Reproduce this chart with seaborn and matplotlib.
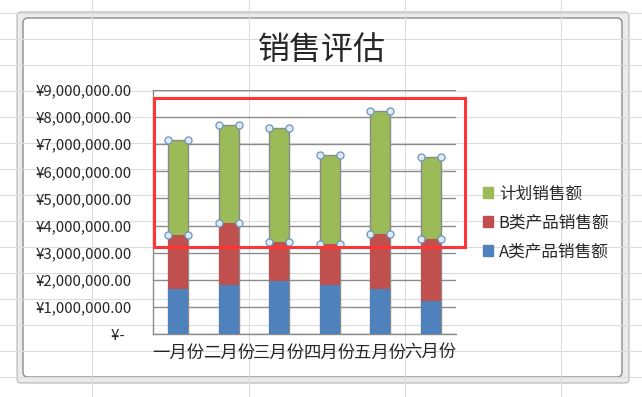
import numpy as np
import pandas as pd
import matplotlib
matplotlib.use("Agg")
import matplotlib.pyplot as plt
from matplotlib.patches import Rectangle, FancyBboxPatch, Patch
import seaborn as sns

# 数据
months = ["一月份", "二月份", "三月份", "四月份", "五月份", "六月份"]
sales_a = [1660000, 1790000, 1970000, 1790000, 1670000, 1200000]
sales_b = [1990000, 2310000, 1410000, 1530000, 2030000, 2310000]
sales_plan = [3510000, 3610000, 4230000, 3300000, 4510000, 3010000]
y_ticks = [0, 1000000, 2000000, 3000000, 4000000, 5000000, 6000000, 7000000, 8000000, 9000000]

col_a = "#4f81bd"
col_b = "#c0504d"
col_plan = "#9bbb59"

sns.set_style("white")
plt.rcParams['font.family'] = ['Noto Sans CJK SC', 'DejaVu Sans']

W, H = 642, 397
fig = plt.figure(figsize=(W / 100, H / 100), dpi=100)

# 背景：Excel 单元格 + 图表外框（像素坐标）
bg = fig.add_axes([0, 0, 1, 1])
bg.set_xlim(0, W)
bg.set_ylim(H, 0)
bg.axis("off")
for x in [92, 249, 405, 561]:
    bg.plot([x, x], [0, H], color="#dcdcdc", lw=0.8)
for y in range(13, H, 26):
    bg.plot([0, W], [y, y], color="#dcdcdc", lw=0.8)
bg.add_patch(FancyBboxPatch((17, 12), 612, 371, boxstyle="round,pad=0,rounding_size=4",
                            fc="#ebebeb", ec="#b4b4b4", lw=0.8))
bg.add_patch(FancyBboxPatch((23, 18), 599, 359, boxstyle="round,pad=0,rounding_size=5",
                            fc="white", ec="#8c8c8c", lw=1.0))

# 主图
left, right, top, bottom = 153, 456, 90, 334
ax = fig.add_axes([left / W, (H - bottom) / H, (right - left) / W, (bottom - top) / H])
ax.set_facecolor("none")

df = pd.DataFrame({"月份": months, "A": sales_a, "B": sales_b, "计划": sales_plan})
df["AB"] = df["A"] + df["B"]
df["总计"] = df["AB"] + df["计划"]

bw = 0.4
sns.barplot(data=df, x="月份", y="总计", color=col_plan, saturation=1, width=bw,
            edgecolor="#8a8a8a", linewidth=1.0, ax=ax, zorder=2)
sns.barplot(data=df, x="月份", y="AB", color=col_b, saturation=1, width=bw,
            linewidth=0, ax=ax, zorder=3)
sns.barplot(data=df, x="月份", y="A", color=col_a, saturation=1, width=bw,
            linewidth=0, ax=ax, zorder=4)

# 选中数据系列的控制点
xs = np.arange(len(months))
for yy in [df["总计"], df["AB"]]:
    for dx in [-bw / 2, bw / 2]:
        ax.scatter(xs + dx, yy, s=26, facecolor="#dcecf5", edgecolor="#6f93bd",
                   linewidth=0.9, zorder=6, clip_on=False)

ax.set_xlim(-0.5, len(months) - 0.5)
ax.set_ylim(0, 9000000)
ax.set_yticks(y_ticks)
ax.set_yticklabels(["¥-  " if v == 0 else f"¥{v:,.2f}" for v in y_ticks], fontsize=10.8)
ax.yaxis.grid(True, color="#8c8c8c", lw=1.0, zorder=0)
ax.set_axisbelow(True)
ax.set_xticks(xs)
ax.set_xticklabels(months, fontsize=12.5)
ax.set_xticks(np.arange(-0.5, len(months), 1), minor=True)
ax.tick_params(axis="x", which="major", length=0, pad=7)
ax.tick_params(axis="x", which="minor", length=5, width=1, color="#8c8c8c", direction="out")
ax.tick_params(axis="y", length=5, width=1, color="#8c8c8c", direction="out", pad=10.5)
ax.set_xlabel("")
ax.set_ylabel("")
for s in ["top", "right"]:
    ax.spines[s].set_visible(False)
for s in ["left", "bottom"]:
    ax.spines[s].set_color("#8c8c8c")
    ax.spines[s].set_linewidth(1.0)

# 标题
fig.text(322 / W, 1 - 50 / H, "销售评估", fontsize=23, ha="center", va="center")

# 图例
handles = [Patch(color=col_plan, label="计划销售额"),
           Patch(color=col_b, label="B类产品销售额"),
           Patch(color=col_a, label="A类产品销售额")]
fig.legend(handles=handles, loc="center left", bbox_to_anchor=(468 / W, 1 - 223 / H),
           frameon=False, fontsize=12, handlelength=0.6, handleheight=0.6,
           handletextpad=0.35, labelspacing=0.72)

# 红色标注框
bg2 = fig.add_axes([0, 0, 1, 1], zorder=10)
bg2.set_xlim(0, W)
bg2.set_ylim(H, 0)
bg2.axis("off")
bg2.add_patch(Rectangle((153.5, 97.5), 311, 149, fill=False, ec="#ff3535", lw=2.2))

fig.savefig("out.png", dpi=100)
